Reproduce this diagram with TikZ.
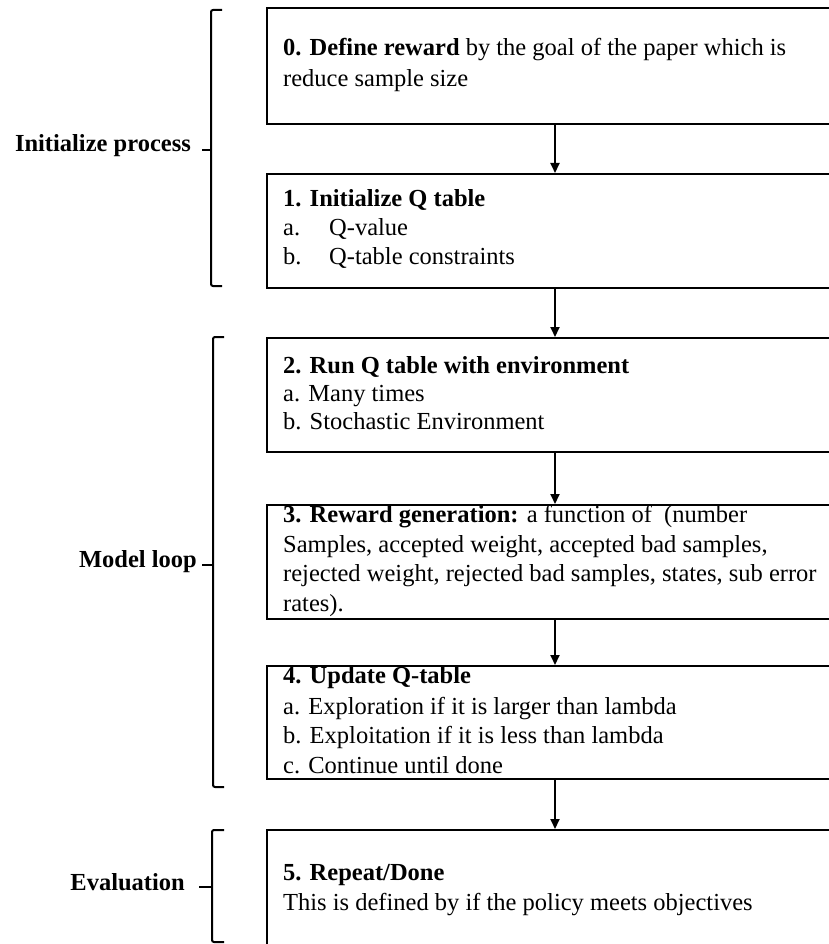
\documentclass[tikz,border=0pt]{standalone}
\usepackage{fontspec}
\setmainfont{Liberation Serif}
\usetikzlibrary{arrows.meta}

\tikzset{
  stepbox/.style={draw=black, line width=2pt, rectangle, inner sep=0pt,
    anchor=north west, minimum width=579pt},
  line/.style={anchor=base west, inner sep=0pt, font=\fontsize{24.5}{30}\selectfont},
  grouplabel/.style={anchor=base east, inner sep=0pt, font=\fontsize{24.5}{30}\selectfont\bfseries},
  flow/.style={line width=1.8pt, -{Triangle[length=10pt,width=9pt]}},
  bracket/.style={line width=2pt, rounded corners=2pt},
}

\begin{document}
\begin{tikzpicture}[x=1pt, y=-1pt]
\useasboundingbox (0,0) rectangle (829,944);
\begin{scope}
\clip (0,0) rectangle (829,944);

% process boxes (they run off the right and bottom edges)
\node[stepbox, minimum height=116pt] (b0) at (266,7) {};
\node[stepbox, minimum height=114pt] (b1) at (266,173) {};
\node[stepbox, minimum height=114pt] (b2) at (266,337) {};
\node[stepbox, minimum height=114pt] (b3) at (266,504) {};
\node[stepbox, minimum height=113pt] (b4) at (266,665) {};
\node[stepbox, minimum height=131pt] (b5) at (266,829) {};

% box texts
\node[line] (t0a) at (283,56) {\textbf{0. Define reward} by the goal of the paper which is};
\node[line] (t0b) at (283,87) {reduce sample size};

\node[line] (t1a) at (283,206) {\textbf{1. Initialize Q table}};
\node[line] (t1b) at (283,235) {a.};
\node[line] (t1c) at (329,235) {Q-value};
\node[line] (t1d) at (283,264) {b.};
\node[line] (t1e) at (329,264) {Q-table constraints};

\node[line] (t2a) at (283,373) {\textbf{2. Run Q table with environment}};
\node[line] (t2b) at (283,401) {a. Many times};
\node[line] (t2c) at (283,429) {b. Stochastic Environment};

\node[line] (t3a) at (283,522) {\textbf{3. Reward generation:} a function of\ \ (number};
\node[line] (t3b) at (283,552) {Samples, accepted weight, accepted bad samples,};
\node[line] (t3c) at (283,581) {rejected weight, rejected bad samples, states, sub error};
\node[line] (t3d) at (283,611) {rates).};

\node[line] (t4a) at (283,683) {\textbf{4. Update Q-table}};
\node[line] (t4b) at (283,714) {a. Exploration if it is larger than lambda};
\node[line] (t4c) at (283,743) {b. Exploitation if it is less than lambda};
\node[line] (t4d) at (283,773) {c. Continue until done};

\node[line] (t5a) at (283,880) {\textbf{5. Repeat/Done}};
\node[line] (t5b) at (283,910) {This is defined by if the policy meets objectives};

% connectors
\coordinate (ax) at (555,0);
\draw[flow] (b0.south -| ax) -- (b1.north -| ax);
\draw[flow] (b1.south -| ax) -- (b2.north -| ax);
\draw[flow] (b2.south -| ax) -- (b3.north -| ax);
\draw[flow] (b3.south -| ax) -- (b4.north -| ax);
\draw[flow] (b4.south -| ax) -- (b5.north -| ax);

% group brackets
\draw[bracket] (222,10) -- (211,10) -- (211,286) -- (222,286);
\draw[line width=2pt] (211,150) -- (202,150);
\draw[bracket] (224,337) -- (213,337) -- (213,787) -- (224,787);
\draw[line width=2pt] (213,565) -- (202,565);
\draw[bracket] (224,830) -- (212,830) -- (212,942) -- (224,942);
\draw[line width=2pt] (212,887) -- (199,887);

% group labels
\node[grouplabel] (g1) at (191,152) {Initialize process};
\node[grouplabel] (g2) at (197,567) {Model loop};
\node[grouplabel] (g3) at (185,890) {Evaluation};
\end{scope}
\end{tikzpicture}
\end{document}
